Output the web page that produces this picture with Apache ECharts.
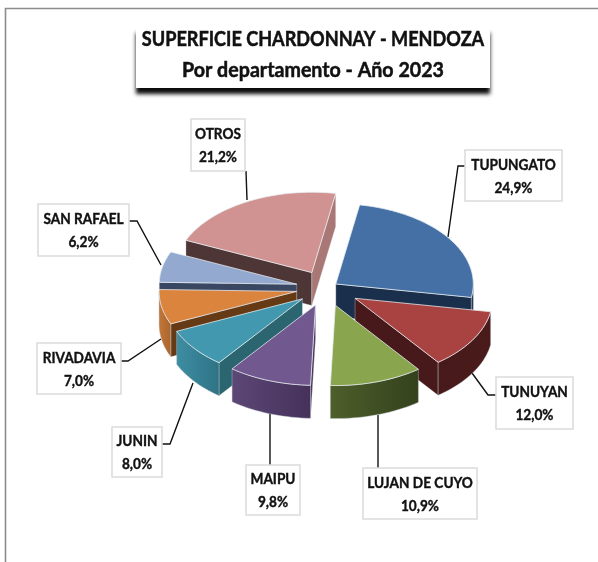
<!DOCTYPE html>
<html>
<head>
<meta charset="utf-8">
<style>html,body{margin:0;padding:0;background:#fff}#c{width:598px;height:562px}</style>
<script src="https://cdn.jsdelivr.net/npm/echarts@6/dist/echarts.min.js"></script>
</head>
<body>
<div id="c"></div>
<script>
// data
const categories = ['TUPUNGATO','TUNUYAN','LUJAN DE CUYO','MAIPU','JUNIN','RIVADAVIA','SAN RAFAEL','OTROS'];
const shares = [24.9,12.0,10.9,9.8,8.0,7.0,6.2,21.2];
const titleLine1 = 'SUPERFICIE CHARDONNAY - MENDOZA';
const titleLine2 = 'Por departamento - Año 2023';

// look of each slice
const explode = [12,34,31,31,30,30,30,30];
const topColors = ['#4570a6','#a84342','#89a54e','#71588f','#4198af','#db843d','#93a9cf','#d19392'];
const radialColors = ['#1a2f4b','#47191a','#36431d','#473358','#2a6570','#653a15','#3a4763','#4f3636'];
const endWallColors = ['#1a2f4b','#47191a','#36431d','#473358','#2a6570','#653a15','#3a4763','#a97776'];
const wallLeft = ['#1a2f4b','#47191a','#4d5f2b','#5c4776','#3e8da3','#c4763a','#3a4763','#4f3636'];
const wallRight = ['#1a2f4b','#4a1b1a','#34411c','#45315a','#2f7385','#a9652c','#3a4763','#4f3636'];
const drawOrder = [0,7,6,5,1,4,3,2];

// layout
const CX = 326, CY = 288, R = 137.5, RATIO = 0.584, DEPTH = 33, START = 10;
const boxes = [[465,150,97,51],[496,377,77,52],[363,468,114,51],[246,465,54,50],[112,427,50,50],[37,343,84,51],[38,204,91,52],[191,119,54,52]];
const leaders = [
 [[465,166],[458,166],[448,237]],
 [[472,373],[488,395],[496,395]],
 [[378,415],[378,468]],
 [[270,413],[270,465]],
 [[193,383],[170,444],[162,444]],
 [[161,339],[128,361],[121,361]],
 [[161,265],[137,221],[129,221]],
 [[247,200],[246,171]]
];

const rad = d => d * Math.PI / 180;
function sliceAngles(i) {
  const total = shares.reduce((a, b) => a + b, 0);
  let a = START;
  for (let k = 0; k < i; k++) a += shares[k] / total * 360;
  return [a, a + shares[i] / total * 360];
}
function arcPoints(ax, ay, a0, a1, dy) {
  const pts = [];
  const n = Math.max(2, Math.ceil((a1 - a0) / 2));
  for (let k = 0; k <= n; k++) {
    const t = rad(a0 + (a1 - a0) * k / n);
    pts.push([ax + R * Math.sin(t), ay - R * RATIO * Math.cos(t) + dy]);
  }
  return pts;
}
function renderSlice(params, api) {
  const i = api.value(0);
  const [a0, a1] = sliceAngles(i);
  const mid = rad((a0 + a1) / 2);
  const ax = CX + explode[i] * Math.sin(mid);
  const ay = CY - explode[i] * RATIO * Math.cos(mid);
  const children = [];
  const edge = a => [ax + R * Math.sin(rad(a)), ay - R * RATIO * Math.cos(rad(a))];
  const wall = (a, fill) => {
    const p = edge(a);
    children.push({type:'polygon', shape:{points:[[ax,ay],p,[p[0],p[1]+DEPTH],[ax,ay+DEPTH]]},
      style:{fill, stroke:'rgba(225,232,238,0.55)', lineWidth:0.6}});
  };
  if (Math.sin(rad(a0)) < 0) wall(a0, radialColors[i]);
  if (Math.sin(rad(a1)) > 0) wall(a1, endWallColors[i]);
  const w0 = Math.max(a0, 90), w1 = Math.min(a1, 270);
  if (w1 > w0) {
    const upper = arcPoints(ax, ay, w0, w1, 0);
    const lower = arcPoints(ax, ay, w0, w1, DEPTH).reverse();
    children.push({type:'polygon', shape:{points:upper.concat(lower)},
      style:{fill:new echarts.graphic.LinearGradient(1,0,0,0,[{offset:0,color:wallRight[i]},{offset:1,color:wallLeft[i]}]),
        stroke:'rgba(190,198,205,0.6)', lineWidth:0.7}});
  }
  children.push({type:'polygon', shape:{points:[[ax,ay]].concat(arcPoints(ax, ay, a0, a1, 0))},
    style:{fill:topColors[i], stroke:'rgba(232,238,242,0.85)', lineWidth:0.9, lineJoin:'round'}});
  return {type:'group', children};
}
function renderLabel(params, api) {
  const i = api.value(0);
  const b = boxes[i];
  return {type:'group', children:[
    {type:'polyline', shape:{points:leaders[i]}, style:{fill:null, stroke:'#111', lineWidth:1.4}},
    {type:'rect', shape:{x:b[0],y:b[1],width:b[2],height:b[3]}, style:{fill:'#fff', stroke:'#dcdcdc', lineWidth:1.6}},
    {type:'text', x:b[0]+b[2]/2, y:b[1]+b[3]/2+0.5, scaleX:0.88, style:{
      text:categories[i]+'\n'+shares[i].toFixed(1).replace('.',',')+'%',
      fill:'#111', stroke:'#111', lineWidth:0.4, font:'bold 15.5px Lato', align:'center', verticalAlign:'middle', lineHeight:23}}
  ]};
}
const chart = echarts.init(document.getElementById('c'), null, {renderer:'canvas'});
chart.setOption({
  animation:false,
  backgroundColor:'#fff',
  graphic:[
    {type:'polyline', z:0, shape:{points:[[5.5,562],[5.5,8.5],[598,8.5]]}, style:{fill:null, stroke:'#8c8c8c', lineWidth:1.6}},
    {type:'rect', z:1, shape:{x:136,y:27,width:354,height:61},
      style:{fill:'#fff', shadowColor:'rgba(0,0,0,0.95)', shadowBlur:4, shadowOffsetX:0, shadowOffsetY:6}},
    {type:'text', z:2, x:313, y:40, scaleX:0.905, style:{text:titleLine1, fill:'#111', stroke:'#111', lineWidth:0.5, font:'bold 20px Lato', align:'center', verticalAlign:'middle'}},
    {type:'text', z:2, x:313, y:70, scaleX:0.935, style:{text:titleLine2, fill:'#111', stroke:'#111', lineWidth:0.5, font:'bold 21px Lato', align:'center', verticalAlign:'middle'}}
  ],
  series:[
    {type:'custom', coordinateSystem:'none', renderItem:renderLabel, data:categories.map((c,i)=>[i]), z:2, silent:true},
    {type:'custom', coordinateSystem:'none', renderItem:renderSlice, data:drawOrder.map(i=>[i]), z:3, silent:true}
  ]
});
</script>
</body>
</html>
